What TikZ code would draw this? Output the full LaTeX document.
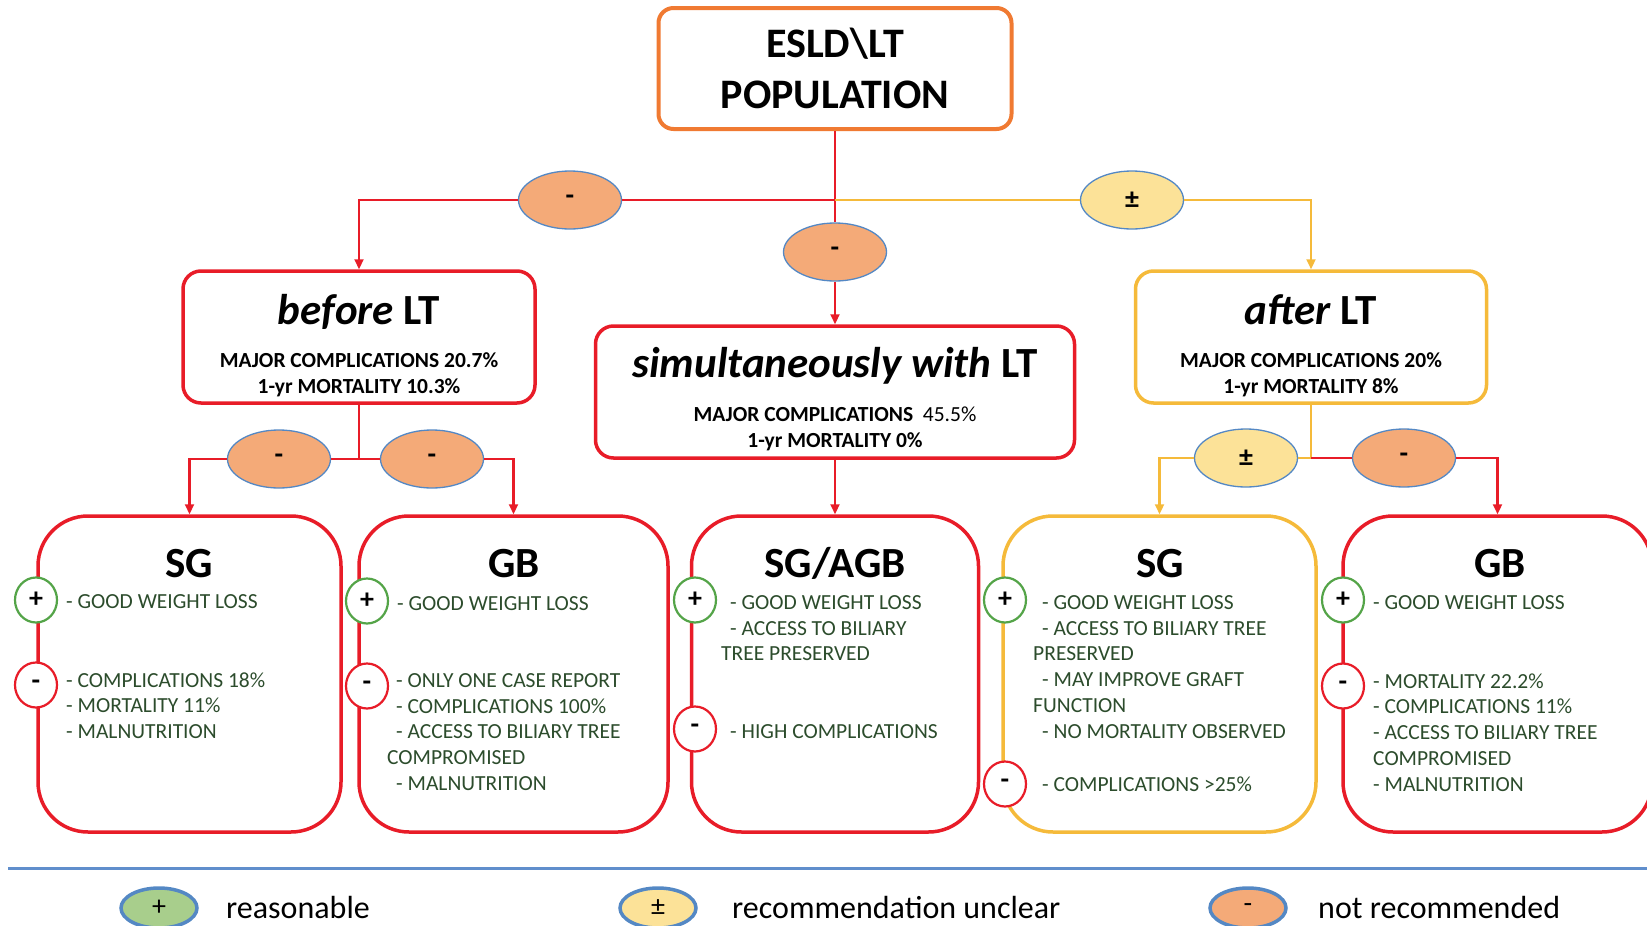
\documentclass[tikz,border=0pt]{standalone}
\usepackage{fontspec}
\setmainfont{Carlito}
\usepackage{tikz}
\usetikzlibrary{arrows.meta, shapes.geometric}

\definecolor{lnred}{RGB}{232,28,40}
\definecolor{lnyel}{RGB}{245,186,58}
\definecolor{popor}{RGB}{240,122,50}
\definecolor{elorange}{RGB}{244,170,120}
\definecolor{elyellow}{RGB}{252,226,152}
\definecolor{elgreen}{RGB}{168,206,140}
\definecolor{elblue}{RGB}{84,136,196}
\definecolor{sepblue}{RGB}{96,142,204}
\definecolor{txtgreen}{RGB}{44,76,44}
\definecolor{signgreen}{RGB}{84,164,72}

\newcommand{\ind}{\hspace*{9pt}}

\begin{document}
\begin{tikzpicture}[x=1pt, y=-1pt,
    redln/.style={draw=lnred, line width=2.2},
    yelln/.style={draw=lnyel, line width=2.2},
    arr/.style={-{Triangle[length=10,width=9]}},
    vote/.style={ellipse, draw=elblue, line width=1.3, minimum width=103, minimum height=58, inner sep=0, font=\bfseries\fontsize{28}{28}\selectfont},
    tier/.style={rectangle, rounded corners=18, line width=3.5, minimum height=132, fill=white},
    opt/.style={rectangle, rounded corners=50, line width=3.5, minimum height=316, fill=white},
    sign/.style={ellipse, fill=white, line width=2.2, minimum width=42, minimum height=45, inner sep=0, font=\bfseries\fontsize{28}{28}\selectfont},
    ttl/.style={anchor=base, inner sep=0, font=\bfseries\fontsize{43}{43}\selectfont},
    optttl/.style={anchor=base, inner sep=0, font=\bfseries\fontsize{43}{43}\selectfont},
    stat/.style={anchor=north, inner sep=0, align=center, font=\bfseries\fontsize{21.5}{26}\selectfont},
    item/.style={anchor=north west, inner sep=0, align=left, text=txtgreen, font=\fontsize{21.5}{25.8}\selectfont},
    leg/.style={ellipse, draw=elblue, line width=3.5, minimum width=76, minimum height=40, inner sep=0, font=\fontsize{28}{28}\selectfont},
    legtxt/.style={anchor=base west, inner sep=0, font=\fontsize{32}{32}\selectfont}]
\clip (0,0) rectangle (1647,926);

% population and timing
\node [rectangle, draw=popor, line width=4, rounded corners=15, minimum width=353, minimum height=121, align=center, font=\bfseries\fontsize{42}{51}\selectfont] (pop) at (835,68.5) {ESLD\textbackslash LT\\POPULATION};

\node [tier, draw=lnred, minimum width=352] (bef) at (359,337) {};
\node [tier, draw=lnred, minimum width=479] (sim) at (835,392) {};
\node [tier, draw=lnyel, minimum width=351] (aft) at (1311,337) {};

\node [ttl] (bef-t) at (359,324.6) {\textit{before} LT};
\node [stat] (bef-s) at (359,352.2) {MAJOR COMPLICATIONS 20.7\%\\1-yr MORTALITY 10.3\%};
\node [ttl] (sim-t) at (835,377.6) {\textit{simultaneously with} LT};
\node [stat] (sim-s) at (835,406.2) {MAJOR COMPLICATIONS\ \ {\mdseries 45.5\%}\\1-yr MORTALITY 0\%};
\node [ttl] (aft-t) at (1311,324.6) {\textit{after} LT};
\node [stat] (aft-s) at (1311,352.2) {MAJOR COMPLICATIONS 20\%\\1-yr MORTALITY 8\%};

\node [vote, fill=elorange] (el) at (570,200) {-};
\node [vote, fill=elorange] (em) at (835,252) {-};
\node [vote, fill=elyellow] (er) at (1132,200) {±};
\node [vote, fill=elorange] (eb1) at (279,459) {-};
\node [vote, fill=elorange] (eb2) at (432,459) {-};
\node [vote, fill=elyellow] (ea1) at (1246,458) {±};
\node [vote, fill=elorange] (ea2) at (1404,458) {-};

% procedures
\node [opt, draw=lnred, minimum width=303] (sg1) at (189.5,674) {};
\node [opt, draw=lnred, minimum width=309] (gb1) at (513.5,674) {};
\node [opt, draw=lnred, minimum width=287] (agb) at (835,674) {};
\node [opt, draw=lnyel, minimum width=313] (sg2) at (1159.5,674) {};
\node [opt, draw=lnred, minimum width=309] (gb2) at (1497.5,674) {};

\node [optttl] (sg1-t) at (189,577.6) {SG};
\node [optttl] (gb1-t) at (514,577.6) {GB};
\node [optttl] (agb-t) at (835,577.6) {SG/AGB};
\node [optttl] (sg2-t) at (1160,577.6) {SG};
\node [optttl] (gb2-t) at (1500,577.6) {GB};

\node [item] (sg1-p) at (66,594.2) {- GOOD WEIGHT LOSS};
\node [item] (sg1-m) at (66,672.2) {- COMPLICATIONS 18\%\\- MORTALITY 11\%\\- MALNUTRITION};
\node [item] (gb1-p) at (397,596.2) {- GOOD WEIGHT LOSS};
\node [item] (gb1-m) at (387,673.2) {\ind- ONLY ONE CASE REPORT\\\ind- COMPLICATIONS 100\%\\\ind- ACCESS TO BILIARY TREE\\COMPROMISED\\\ind- MALNUTRITION};
\node [item] (agb-p) at (721,595.2) {\ind- GOOD WEIGHT LOSS\\\ind- ACCESS TO BILIARY\\TREE PRESERVED};
\node [item] (agb-m) at (721,724.2) {\ind- HIGH COMPLICATIONS};
\node [item] (sg2-p) at (1033,595.2) {\ind- GOOD WEIGHT LOSS\\\ind- ACCESS TO BILIARY TREE\\PRESERVED\\\ind- MAY IMPROVE GRAFT\\FUNCTION\\\ind- NO MORTALITY OBSERVED};
\node [item] (sg2-m) at (1033,776.2) {\ind- COMPLICATIONS >25\%};
\node [item] (gb2-p) at (1373,595.2) {- GOOD WEIGHT LOSS};
\node [item] (gb2-m) at (1373,673.2) {- MORTALITY 22.2\%\\- COMPLICATIONS 11\%\\- ACCESS TO BILIARY TREE\\COMPROMISED\\- MALNUTRITION};

\node [sign, draw=signgreen] (sg1-a) at (36,600) {+};
\node [sign, draw=lnred] (sg1-b) at (36,685) {-};
\node [sign, draw=signgreen] (gb1-a) at (367,601) {+};
\node [sign, draw=lnred] (gb1-b) at (367,686) {-};
\node [sign, draw=signgreen] (agb-a) at (695,600) {+};
\node [sign, draw=lnred] (agb-b) at (695,729) {-};
\node [sign, draw=signgreen] (sg2-a) at (1005,600) {+};
\node [sign, draw=lnred] (sg2-b) at (1005,784) {-};
\node [sign, draw=signgreen] (gb2-a) at (1343,600) {+};
\node [sign, draw=lnred] (gb2-b) at (1343,686) {-};

% connectors
\coordinate (jt) at (835,200);
\coordinate (jb) at (359,459);
\coordinate (ja) at (1311,458);

\draw [redln] (pop) -- (em);
\draw [redln, arr] (em) -- (sim);
\draw [redln] (jt) -- (el);
\draw [redln, arr] (el) -| (bef);
\draw [yelln] (jt) -- (er);
\draw [yelln, arr] (er) -| (aft);

\draw [redln] (bef) -- (jb) -- (eb1);
\draw [redln, arr] (eb1) -| (sg1);
\draw [redln] (jb) -- (eb2);
\draw [redln, arr] (eb2) -| (gb1);
\draw [redln, arr] (sim) -- (agb);
\draw [yelln] (aft) -- (ja) -- (ea1);
\draw [yelln, arr] (ea1) -| (sg2);
\draw [redln] (ja) -- (ea2);
\draw [redln, arr] (ea2) -| (gb2);

% legend
\draw [sepblue, line width=3] (8,868) -- (1647,868);
\node [leg, fill=elgreen] (lg1) at (159,908) {+};
\node [leg, fill=elyellow] (lg2) at (658,908) {±};
\node [leg, fill=elorange] (lg3) at (1248,908) {-};
\node [legtxt] (lg1-t) at (226,918) {reasonable};
\node [legtxt] (lg2-t) at (732,918) {recommendation unclear};
\node [legtxt] (lg3-t) at (1318,918) {not recommended};
\end{tikzpicture}
\end{document}
